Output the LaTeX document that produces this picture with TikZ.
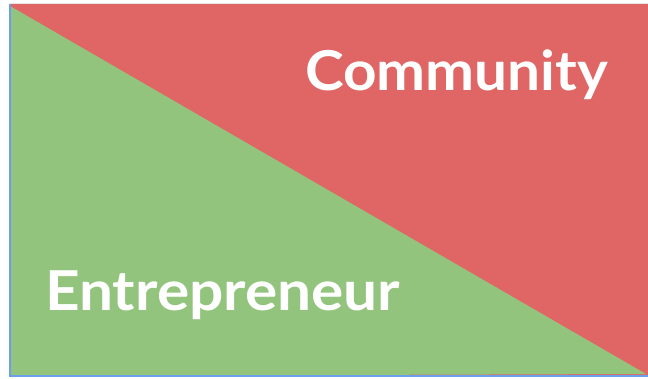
\documentclass[tikz,border=0pt]{standalone}
\usepackage{fontspec}
\setmainfont{Lato}
\usepackage{graphicx}
\definecolor{cred}{HTML}{E06666}
\definecolor{cgreen}{HTML}{93C47D}
\definecolor{cblue}{HTML}{6D9EEB}
\definecolor{cgrey}{HTML}{E6E6E6}
\begin{document}
\begin{tikzpicture}[x=1pt,y=-1pt,
  lbl/.style={anchor=base west,inner sep=0pt,text=white,font=\fontsize{55}{60}\selectfont\bfseries}]
\useasboundingbox (0,0) rectangle (648,378);
\fill[white] (0,0) rectangle (648,378);
\fill[cred] (10,4) rectangle (648,376);
\fill[cgreen] (10,6) -- (646,374) -- (10,376) -- cycle;
\draw[cgrey,line width=1pt] (10,3.5) -- (648,3.5);
\draw[cblue,line width=2pt] (10,4) -- (10,376) -- (648,376);
\node[lbl] (comm) at (305,90) {\resizebox{303pt}{\height}{Community}};
\node[lbl] (entr) at (45,310) {\resizebox{355pt}{\height}{Entrepreneur}};
\end{tikzpicture}
\end{document}
